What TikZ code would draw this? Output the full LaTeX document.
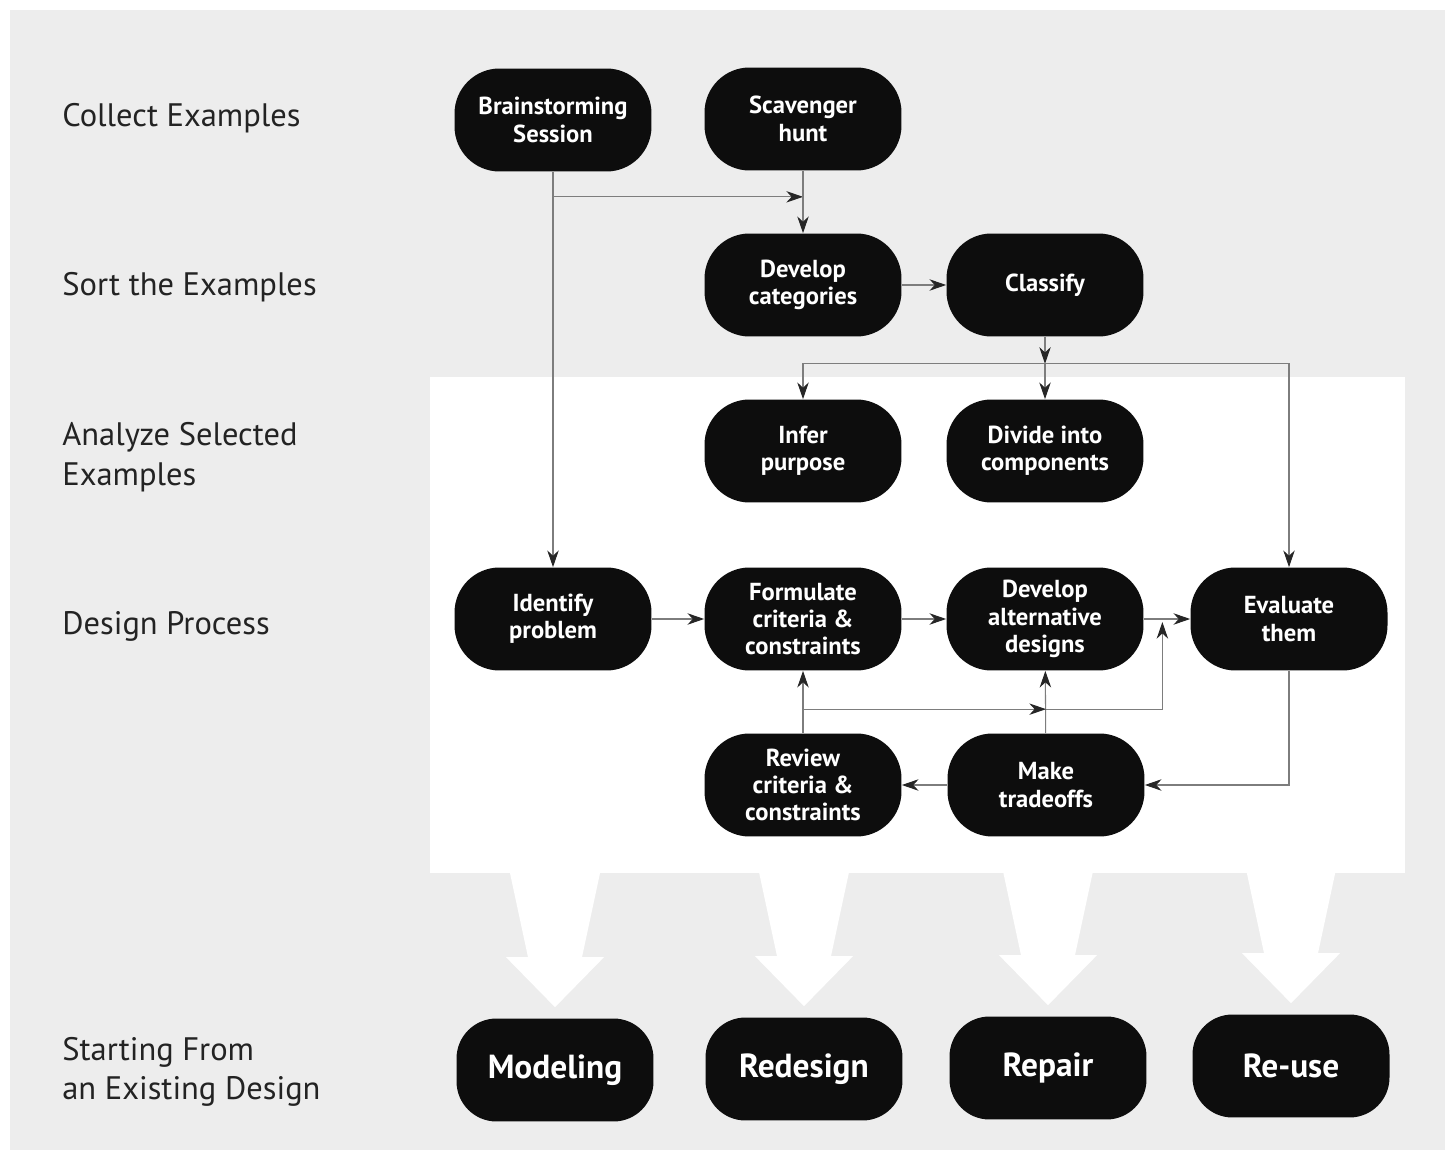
\documentclass[tikz,border=0pt]{standalone}
\usepackage{fontspec}
\setmainfont{PT Sans}
\usetikzlibrary{arrows.meta,positioning,calc}
\definecolor{pagegray}{RGB}{237,237,237}
\definecolor{wiregray}{RGB}{125,125,125}
\definecolor{labelgray}{RGB}{35,35,35}

\tikzset{
  stepbox/.style={fill=black!95, text=white, rounded corners=0.9cm,
    minimum width=3.94cm, minimum height=2.06cm, inner sep=0pt,
    align=center, font=\bfseries\fontsize{14}{15.5}\selectfont},
  endbox/.style={stepbox, rounded corners=0.8cm,
    font=\bfseries\fontsize{19}{21}\selectfont},
  rowlabel/.style={anchor=west, inner sep=0pt, align=left, text=labelgray,
    font=\fontsize{18.5}{22.5}\selectfont},
  flow/.style={draw=wiregray, line width=0.6pt,
    -{Stealth[length=9.5pt,width=6.5pt,inset=3pt,color=black!85]}}
}

\begin{document}
\begin{tikzpicture}[x=0.02cm,y=-0.02cm]
    % Page and panel
    \useasboundingbox (0,0) rectangle (1453,1158);
    \fill[white] (0,0) rectangle (1453,1158);
    \fill[pagegray] (10,10) rectangle (1445,1150);
    \fill[white] (430,377) rectangle (1405,873);

    % Row labels
    \node[rowlabel] (collect) at (62,118) {Collect Examples};
    \node[rowlabel] (sort) at (62,287) {Sort the Examples};
    \node[rowlabel] (analyze) at (62,457) {Analyze Selected\\Examples};
    \node[rowlabel] (design) at (62,626) {Design Process};
    \node[rowlabel] (existing) at (62,1072) {Starting From\\an Existing Design};

    % Collect and sort
    \node[stepbox] (brain) at (553,120) {Brainstorming\\Session};
    \node[stepbox] (hunt) at (803,119) {Scavenger\\hunt};
    \node[stepbox] (cats) at (803,285) {Develop\\categories};
    \node[stepbox] (classify) at (1045,285) {Classify};

    % Analyze
    \node[stepbox] (infer) at (803,451) {Infer\\purpose};
    \node[stepbox] (divide) at (1045,451) {Divide into\\components};

    % Design process
    \node[stepbox] (identify) at (553,619) {Identify\\problem};
    \node[stepbox] (formulate) at (803,619) {Formulate\\criteria \&\\constraints};
    \node[stepbox] (altdes) at (1045,619) {Develop\\alternative\\designs};
    \node[stepbox] (evaluate) at (1289,619) {Evaluate\\them};
    \node[stepbox] (review) at (803,785) {Review\\criteria \&\\constraints};
    \node[stepbox] (tradeoffs) at (1046,785) {Make\\tradeoffs};

    % Existing design
    \node[endbox] (modeling) at (555,1070) {Modeling};
    \node[endbox] (redesign) at (804,1069) {Redesign};
    \node[endbox] (repair) at (1048,1068) {Repair};
    \node[endbox] (reuse) at (1291,1066) {Re-use};

    % Big arrows down to the existing design row
    \foreach \n in {modeling,redesign,repair,reuse}
      \fill[white] ($(\n.north)+(-45,-145)$) -- ($(\n.north)+(45,-145)$)
        -- ($(\n.north)+(27,-61)$) -- ($(\n.north)+(49,-61)$)
        -- ($(\n.north)+(0,-11)$) -- ($(\n.north)+(-49,-61)$)
        -- ($(\n.north)+(-27,-61)$) -- cycle;

    % Connections
    \coordinate (split) at ($(brain.south)+(0,25)$);
    \coordinate (fork) at ($(classify.south)+(0,27)$);
    \coordinate (loop) at ($(review.north)+(0,-24)$);
    \coordinate (ret) at ($(altdes.east)!0.4!(evaluate.west)+(0,3)$);
    \draw[flow] (brain.south) -- (identify.north);
    \draw[flow] (split) -- (split -| hunt.south);
    \draw[flow] (hunt.south) -- (cats.north);
    \draw[flow] (cats) -- (classify);
    \draw[flow] (classify.south) -- (fork);
    \draw[flow] (fork) -- (divide.north);
    \draw[flow] (fork) -| (infer.north);
    \draw[flow] (fork) -| (evaluate.north);
    \draw[flow] (identify) -- (formulate);
    \draw[flow] (formulate) -- (altdes);
    \draw[flow] (altdes) -- (evaluate);
    \draw[flow] (evaluate.south) |- (tradeoffs.east);
    \draw[flow] (tradeoffs) -- (review);
    \draw[flow] (review) -- (formulate);
    \draw[flow] (tradeoffs) -- (altdes);
    \draw[flow] (loop) -- (loop -| tradeoffs.north);
    \draw[flow] (loop -| tradeoffs.north) -| (ret);
\end{tikzpicture}
\end{document}
